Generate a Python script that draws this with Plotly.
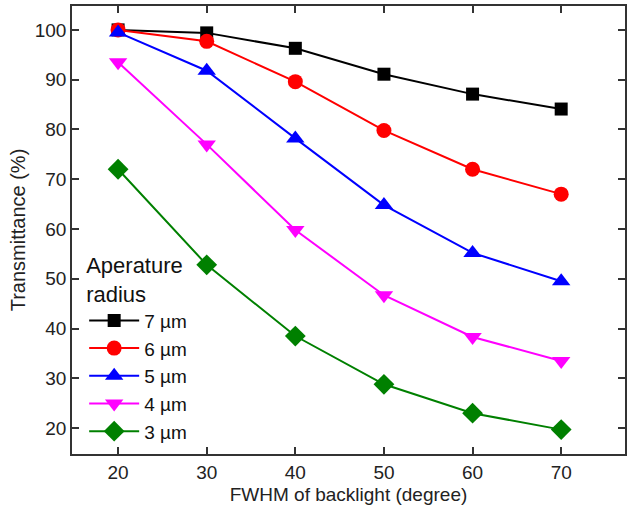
import plotly.graph_objects as go

fwhm = [20, 30, 40, 50, 60, 70]
labels = ["7 \u00b5m", "6 \u00b5m", "5 \u00b5m", "4 \u00b5m", "3 \u00b5m"]
t7 = [100, 99.4, 96.3, 91.1, 87.1, 84.1]
t6 = [100, 97.7, 89.6, 79.8, 72.0, 67.0]
t5 = [99.5, 91.8, 78.2, 64.8, 55.2, 49.5]
t4 = [93.5, 77.0, 59.8, 46.7, 38.3, 33.5]
t3 = [72.0, 52.8, 38.5, 28.8, 23.0, 19.7]
y_ticks = [20, 30, 40, 50, 60, 70, 80, 90, 100]

series = [t7, t6, t5, t4, t3]
colors = ["#000000", "#ff0000", "#0000ff", "#ff00ff", "#008000"]
symbols = ["square", "circle", "triangle-up", "triangle-down", "diamond"]
sizes = [13, 15, 16, 16, 16]

FONT = "Liberation Sans, Arial, sans-serif"

fig = go.Figure()
for lab, ys, c, s, sz in zip(labels, series, colors, symbols, sizes):
    fig.add_trace(go.Scatter(x=fwhm, y=ys, name=lab, mode="lines+markers",
                             line=dict(color=c, width=2),
                             marker=dict(color=c, symbol=s, size=sz)))

axis_common = dict(showline=True, linecolor="#333333", linewidth=1.5, mirror="ticks",
                   ticks="inside", ticklen=7, tickwidth=1.5, tickcolor="#333333",
                   showgrid=False, zeroline=False, automargin=False,
                   tickfont=dict(family=FONT, size=19, color="#222222"))

fig.update_layout(
    width=628, height=510,
    margin=dict(l=72, r=3, t=6, b=56),
    plot_bgcolor="white", paper_bgcolor="white",
    xaxis=dict(range=[14.8, 77.2], tickvals=fwhm,
               title=dict(text="FWHM of backlight (degree)", standoff=6,
                          font=dict(family=FONT, size=19, color="#222222")),
               **axis_common),
    yaxis=dict(range=[14.8, 104.8], tickvals=y_ticks,
               title=dict(text="Transmittance (%)", standoff=4,
                          font=dict(family=FONT, size=20, color="#222222")),
               **axis_common),
    legend=dict(x=0.022, y=0.468, xanchor="left", yanchor="top",
                bgcolor="rgba(0,0,0,0)",
                title=dict(text="Aperature<br>radius", font=dict(family=FONT, size=22, color="#111111")),
                font=dict(family=FONT, size=19, color="#111111"),
                itemwidth=50, tracegroupgap=0),
    showlegend=True,
)

fig.write_html("out.html", config={"displayModeBar": False},
               post_script="document.body.style.margin='0';document.body.style.padding='0';")
